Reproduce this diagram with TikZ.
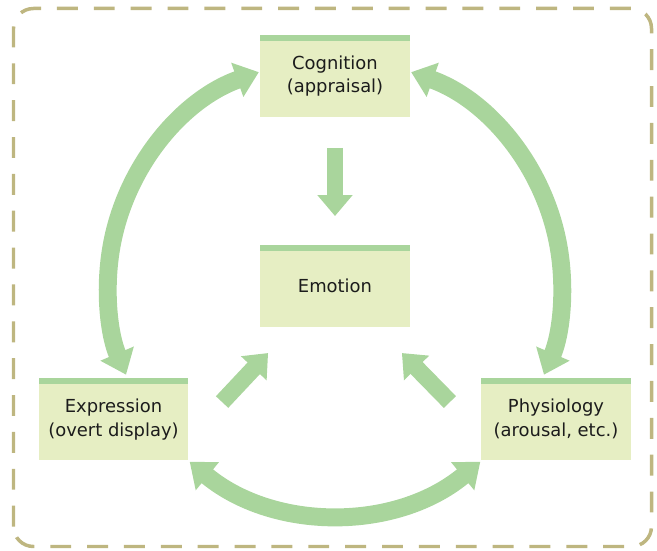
\documentclass[tikz,border=0pt]{standalone}
\usepackage{fontspec}
\setsansfont{DejaVu Sans}
\usetikzlibrary{arrows.meta,calc,positioning}
\definecolor{CycleInk}{HTML}{1C1C1C}
\definecolor{CycleGreen}{HTML}{A9D59C}
\definecolor{CyclePaper}{HTML}{E6EEC3}
\definecolor{CycleFrame}{HTML}{BEB680}
\tikzset{
  every node/.style={font=\sffamily\fontsize{18}{23.5}\selectfont, text=CycleInk},
  stage/.style={fill=CyclePaper, minimum width=150pt, minimum height=82pt, inner sep=0pt, align=center},
  frame/.style={draw=CycleFrame, line width=3.5pt, dash pattern=on 21pt off 16pt, rounded corners=20pt},
  feed/.style={-{Triangle[length=21pt,width=34pt]}, draw=CycleGreen, line width=17pt},
  cyclearrow/.style={{Triangle[length=23pt,width=35pt]}-{Triangle[length=23pt,width=35pt]}, draw=CycleGreen, line width=18pt},
}

\begin{document}
\begin{tikzpicture}[x=1bp,y=1bp]
  \useasboundingbox (0,0) rectangle (657,551);
  % Dashed frame round the whole cycle
  \draw[frame] (13.5,4.5) rectangle (651.5,542.5);
  % Stages
  \node[stage] (emotion) at (335,265) {Emotion};
  \node[stage] (cognition) at (335,475) {Cognition\\(appraisal)};
  \node[stage] (expression) at (113.5,131.5) {Expression\\(overt display)};
  \node[stage] (physiology) at (556,132) {Physiology\\(arousal, etc.)};
  % Green bars along the top of each stage
  \foreach \n in {cognition,emotion,expression,physiology}
    \fill[CycleGreen] (\n.north west) rectangle ($(\n.north east)+(0,-6)$);
  % Two-way arcs on a circle round the emotion
  \draw[cyclearrow] ($(emotion.center)+(109.6:227)$) arc[start angle=109.6, end angle=203, radius=227];
  \draw[cyclearrow] ($(emotion.center)+(70.4:227)$) arc[start angle=70.4, end angle=-23, radius=227];
  \draw[cyclearrow] ($(emotion.center)+(230.4:228)$) arc[start angle=230.4, end angle=309.6, radius=228];
  % Arrows into the emotion
  \draw[feed, shorten <=31pt, shorten >=29pt] (cognition) -- (emotion);
  \coordinate (left tail) at ($(emotion.south west)+(-38,-75)$);
  \coordinate (left tip) at ($(emotion.south west)+(8,-26)$);
  \coordinate (right tail) at ($(emotion.south east)+(40,-75)$);
  \coordinate (right tip) at ($(emotion.south east)+(-8,-26)$);
  \draw[feed] (left tail) -- (left tip);
  \draw[feed] (right tail) -- (right tip);
\end{tikzpicture}
\end{document}
